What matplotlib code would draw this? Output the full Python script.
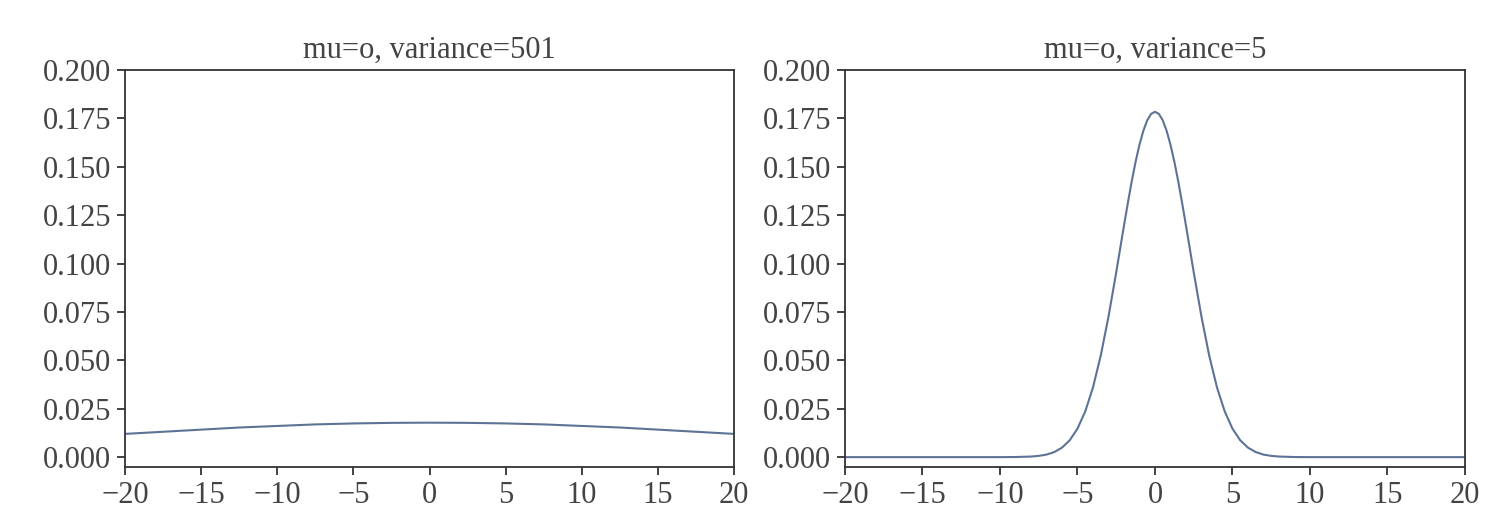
import matplotlib.pyplot as plt

plt.rcParams['font.family'] = ['Liberation Serif', 'DejaVu Serif']

# left panel: wide curve
x_wide = [-20, -17.5, -15, -12.5, -10, -7.5, -5, -2.5, 0, 2.5, 5, 7.5, 10, 12.5, 15, 17.5, 20]
y_wide = [0.0120, 0.0131, 0.0142, 0.0153, 0.0161, 0.0169, 0.0174, 0.0177, 0.0178,
          0.0177, 0.0174, 0.0169, 0.0161, 0.0153, 0.0142, 0.0131, 0.0120]

# right panel: narrow curve
x_narrow = [-20, -15, -10, -9, -8, -7.5, -7, -6.5, -6, -5.5, -5, -4.5, -4, -3.5, -3, -2.5,
            -2, -1.75, -1.5, -1.25, -1, -0.75, -0.5, -0.25, 0, 0.25, 0.5, 0.75, 1, 1.25,
            1.5, 1.75, 2, 2.5, 3, 3.5, 4, 4.5, 5, 5.5, 6, 6.5,
            7, 7.5, 8, 9, 10, 15, 20]
y_narrow = [0.0, 0.0, 0.0, 0.00005, 0.0003, 0.00064, 0.0013, 0.0026, 0.0049, 0.0087,
            0.0147, 0.0236, 0.0360, 0.0524, 0.0725, 0.0955, 0.1196, 0.1313, 0.1425,
            0.1526, 0.1614, 0.1686, 0.1740, 0.1773, 0.1784, 0.1773, 0.1740, 0.1686,
            0.1614, 0.1526, 0.1425, 0.1313, 0.1196, 0.0955, 0.0725, 0.0524,
            0.0360, 0.0236, 0.0147, 0.0087, 0.0049, 0.0026, 0.0013, 0.00064, 0.0003,
            0.00005, 0.0, 0.0, 0.0]

titles = ['mu=o, variance=501', 'mu=o, variance=5']
xticks = [-20, -15, -10, -5, 0, 5, 10, 15, 20]
yticks = [0.0, 0.025, 0.05, 0.075, 0.1, 0.125, 0.15, 0.175, 0.2]

fig = plt.figure(figsize=(14.99, 5.22), dpi=100)
ax1 = fig.add_axes([0.0834, 0.105, 0.4063, 0.761])
ax2 = fig.add_axes([0.5637, 0.105, 0.4136, 0.761])

for ax, xs, ys, title in [(ax1, x_wide, y_wide, titles[0]), (ax2, x_narrow, y_narrow, titles[1])]:
    ax.plot(xs, ys, color='#5d7396', linewidth=1.5)
    ax.set_xlim(-20, 20)
    ax.set_ylim(-0.0052, 0.2)
    ax.set_xticks(xticks)
    ax.set_yticks(yticks)
    ax.set_yticklabels(['%.3f' % v for v in yticks])
    ax.set_xticklabels(['\u2212%d' % -v if v < 0 else '%d' % v for v in xticks])
    ax.tick_params(labelsize=22, length=6, width=1.3, pad=4, colors='#333333', labelcolor='#444444')
    for s in ax.spines.values():
        s.set_linewidth(1.3)
        s.set_color('#333333')
    ax.set_title(title, fontsize=22, color='#444444', pad=9)

fig.savefig('out.png', dpi=100)
